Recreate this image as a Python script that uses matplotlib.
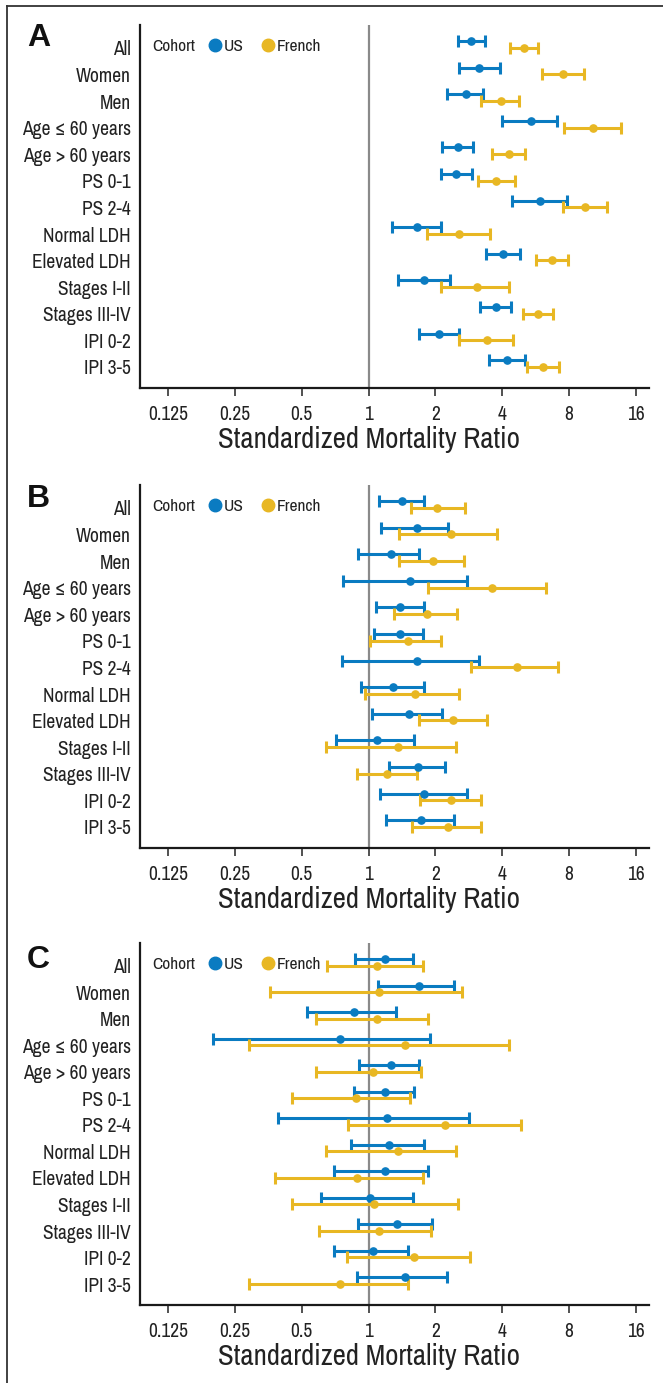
import numpy as np
import matplotlib
matplotlib.use("Agg")
import matplotlib.pyplot as plt
from matplotlib.lines import Line2D

plt.rcParams['font.family'] = ['Archivo Narrow', 'DejaVu Sans']

BLUE = '#0A7BC1'
GOLD = '#E8B723'
TXT = '#222222'

categories = ['All', 'Women', 'Men', 'Age \u2264 60 years', 'Age > 60 years',
              'PS 0-1', 'PS 2-4', 'Normal LDH', 'Elevated LDH', 'Stages I-II',
              'Stages III-IV', 'IPI 0-2', 'IPI 3-5']
tick_values = [0.125, 0.25, 0.5, 1, 2, 4, 8, 16]
tick_labels = ['0.125', '0.25', '0.5', '1', '2', '4', '8', '16']

# Panel A
a_us_smr = [2.89, 3.15, 2.75, 5.39, 2.53, 2.47, 5.92, 1.66, 4.04, 1.78, 3.74, 2.07, 4.20]
a_us_lo = [2.52, 2.55, 2.26, 4.00, 2.14, 2.11, 4.42, 1.28, 3.37, 1.35, 3.19, 1.68, 3.49]
a_us_hi = [3.34, 3.91, 3.26, 7.03, 2.96, 2.92, 7.80, 2.13, 4.82, 2.33, 4.39, 2.56, 5.05]
a_fr_smr = [5.01, 7.54, 3.93, 10.29, 4.29, 3.76, 9.44, 2.55, 6.73, 3.08, 5.78, 3.40, 6.08]
a_fr_lo = [4.33, 6.06, 3.20, 7.59, 3.60, 3.11, 7.49, 1.83, 5.70, 2.13, 4.96, 2.55, 5.15]
a_fr_hi = [5.82, 9.34, 4.77, 13.66, 5.06, 4.57, 11.82, 3.51, 7.89, 4.30, 6.79, 4.46, 7.21]

# Panel B
b_us_smr = [1.41, 1.65, 1.26, 1.54, 1.39, 1.38, 1.66, 1.29, 1.52, 1.09, 1.67, 1.78, 1.73]
b_us_lo = [1.11, 1.14, 0.90, 0.77, 1.08, 1.06, 0.76, 0.92, 1.04, 0.71, 1.24, 1.13, 1.20]
b_us_hi = [1.77, 2.29, 1.69, 2.78, 1.77, 1.76, 3.13, 1.78, 2.15, 1.60, 2.21, 2.78, 2.42]
b_fr_smr = [2.04, 2.34, 1.95, 3.61, 1.84, 1.50, 4.65, 1.62, 2.41, 1.35, 1.21, 2.35, 2.28]
b_fr_lo = [1.55, 1.37, 1.37, 1.85, 1.30, 1.02, 2.88, 0.96, 1.68, 0.64, 0.89, 1.70, 1.57]
b_fr_hi = [2.73, 3.77, 2.70, 6.30, 2.51, 2.13, 7.11, 2.55, 3.40, 2.48, 1.65, 3.20, 3.20]

# Panel C
c_us_smr = [1.19, 1.68, 0.86, 0.74, 1.26, 1.18, 1.21, 1.24, 1.18, 1.01, 1.34, 1.05, 1.46]
c_us_lo = [0.87, 1.10, 0.53, 0.20, 0.91, 0.86, 0.39, 0.83, 0.70, 0.61, 0.90, 0.70, 0.89]
c_us_hi = [1.59, 2.42, 1.33, 1.89, 1.69, 1.60, 2.84, 1.78, 1.86, 1.58, 1.94, 1.51, 2.26]
c_fr_smr = [1.09, 1.12, 1.09, 1.46, 1.05, 0.88, 2.22, 1.35, 0.89, 1.06, 1.11, 1.60, 0.74]
c_fr_lo = [0.65, 0.36, 0.58, 0.29, 0.58, 0.45, 0.81, 0.64, 0.38, 0.45, 0.60, 0.80, 0.29]
c_fr_hi = [1.75, 2.63, 1.86, 4.27, 1.73, 1.54, 4.87, 2.47, 1.76, 2.54, 1.91, 2.87, 1.51]

panels = [
    ('A', (a_us_smr, a_us_lo, a_us_hi), (a_fr_smr, a_fr_lo, a_fr_hi)),
    ('B', (b_us_smr, b_us_lo, b_us_hi), (b_fr_smr, b_fr_lo, b_fr_hi)),
    ('C', (c_us_smr, c_us_lo, c_us_hi), (c_fr_smr, c_fr_lo, c_fr_hi)),
]

W, H = 663, 1383
fig = plt.figure(figsize=(W / 100, H / 100), dpi=100)

# axes boxes in pixels: (top, bottom)
boxes = [(25, 388), (485, 848), (943, 1305)]
ax_left, ax_right = 140, 649
letter_tops = [23, 484, 945]

ypos = np.arange(len(categories))


def draw_series(ax, vals, offset, color):
    smr, lo, hi = (np.array(v) for v in vals)
    err = np.vstack([smr - lo, hi - smr])
    ax.errorbar(smr, ypos + offset, xerr=err, fmt='o', color=color,
                ecolor=color, elinewidth=2.2, capsize=4.5, capthick=2.2,
                markersize=5.2, zorder=3)


for (letter, us, fr), (top, bottom), lt in zip(panels, boxes, letter_tops):
    ax = fig.add_axes([ax_left / W, 1 - bottom / H, (ax_right - ax_left) / W,
                       (bottom - top) / H])
    ax.set_xscale('log', base=2)
    ax.set_xlim(2 ** -3.42, 2 ** 4.196)
    ax.set_ylim(12.92, -0.73)
    ax.axvline(1, color='#8a8a8a', lw=1.6, zorder=1)

    draw_series(ax, us, -0.125, BLUE)
    draw_series(ax, fr, 0.125, GOLD)

    ax.set_xticks(tick_values)
    ax.set_xticklabels(tick_labels)
    ax.xaxis.set_minor_locator(matplotlib.ticker.NullLocator())
    ax.tick_params(axis='x', length=6, width=1.2, color='#333333',
                   labelsize=14, pad=6, labelcolor=TXT)
    ax.set_yticks(ypos + 0.13)
    ax.set_yticklabels(categories)
    ax.tick_params(axis='y', length=0, pad=6.5, labelsize=14,
                   labelcolor=TXT)

    for side in ['top', 'right']:
        ax.spines[side].set_visible(False)
    for side in ['left', 'bottom']:
        ax.spines[side].set_linewidth(1.6)
        ax.spines[side].set_color('#1a1a1a')

    ax.set_xlabel('Standardized Mortality Ratio', fontsize=20.8, color=TXT)
    ax.xaxis.set_label_coords(0.449, -0.105)

    # legend
    ax.text(0.025, 0.94, 'Cohort', transform=ax.transAxes, fontsize=12.5,
            va='center', ha='left', color=TXT)
    handles = [Line2D([], [], marker='o', ls='', color=BLUE, markersize=9),
               Line2D([], [], marker='o', ls='', color=GOLD, markersize=9)]
    ax.legend(handles, ['US', 'French'], ncol=2, frameon=False,
              loc='center left', bbox_to_anchor=(0.138, 0.94),
              handlelength=0.6, handletextpad=0.2, columnspacing=1.1,
              fontsize=12.5, borderaxespad=0, borderpad=0, labelcolor=TXT)

    fig.text(27 / W, 1 - lt / H, letter, fontsize=23, fontweight='bold',
             family=['Liberation Sans', 'DejaVu Sans'], va='top', ha='left',
             color='#111111')

# outer frame (left and top edges)
fig.add_artist(Line2D([7 / W, 7 / W], [0, 1 - 6 / H], transform=fig.transFigure,
                      color='#333333', lw=1.3))
fig.add_artist(Line2D([7 / W, 1], [1 - 6 / H, 1 - 6 / H], transform=fig.transFigure,
                      color='#333333', lw=1.3))

fig.savefig('out.png', dpi=100)
